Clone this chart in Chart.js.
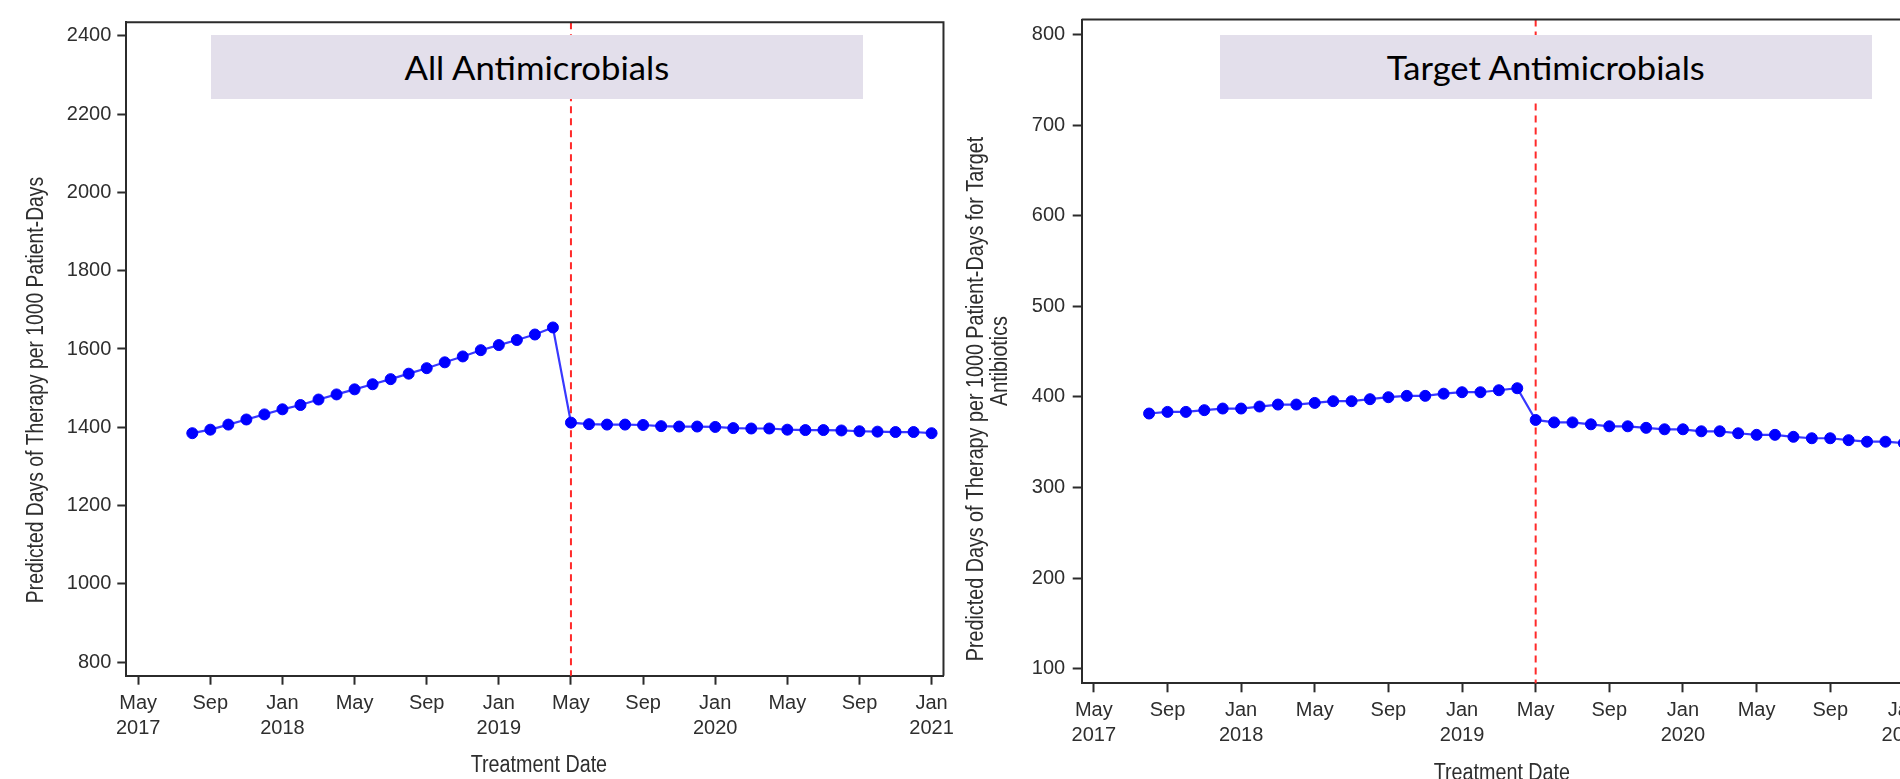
<!DOCTYPE html>
<html>
<head>
<meta charset="utf-8">
<script src="https://cdn.jsdelivr.net/npm/chart.js@4.4.0/dist/chart.umd.min.js"></script>
<style>
  html, body { margin:0; padding:0; background:#fff; width:1900px; height:779px; overflow:hidden; }
  canvas { position:absolute; top:0; }
  #c1 { left:0; }
  #c2 { left:950px; }
  .tbox { position:absolute; background:#E3DFEB; top:35px; height:64px; width:652px;
          display:flex; align-items:center; justify-content:center; overflow:visible; }
  .tbox span { font-family: Lato, "Open Sans", sans-serif; font-size:33px; color:#000; white-space:nowrap; display:inline-block; }
  #b1 { left:211px; }
  #b2 { left:1220px; }
</style>
</head>
<body>
<canvas id="c1" width="960" height="779"></canvas>
<canvas id="c2" width="990" height="779"></canvas>
<div class="tbox" id="b1"><span id="t1"></span></div>
<div class="tbox" id="b2"><span id="t2"></span></div>
<script>
// ---------------- data ----------------
const months = ['2017-08','2017-09','2017-10','2017-11','2017-12','2018-01','2018-02','2018-03','2018-04','2018-05','2018-06','2018-07','2018-08','2018-09','2018-10','2018-11','2018-12','2019-01','2019-02','2019-03','2019-04',
                '2019-05','2019-06','2019-07','2019-08','2019-09','2019-10','2019-11','2019-12','2020-01','2020-02','2020-03','2020-04','2020-05','2020-06','2020-07','2020-08','2020-09','2020-10','2020-11','2020-12','2021-01'];
const allAntimicrobials = [1385,1394,1407,1420,1433,1446,1457,1471,1484,1497,1510,1523,1537,1551,1566,1581,1597,1610,1623,1637,1655,
                           1412,1408,1407,1407,1406,1403,1402,1402,1401,1398,1397,1397,1394,1393,1393,1392,1390,1389,1388,1388,1385];
const targetAntimicrobials = [381.7,383.5,383.5,385.4,387.2,387.2,389.4,391.6,391.6,393.4,395.3,395.3,397.5,399.7,401.2,401.2,403.6,405.2,405.2,407.4,409.6,
                              374.6,371.9,371.9,369.8,367.6,367.6,365.9,364.3,364.3,362.1,362.1,359.9,358.2,358.2,356.0,354.4,354.4,352.3,350.6,350.6,349.0];
const xTickMonths = ['2017-05','2017-09','2018-01','2018-05','2018-09','2019-01','2019-05','2019-09','2020-01','2020-05','2020-09','2021-01'];
const xTickLabels = [['May','2017'],['Sep'],['Jan','2018'],['May'],['Sep'],['Jan','2019'],['May'],['Sep'],['Jan','2020'],['May'],['Sep'],['Jan','2021']];
const leftYTicks = [800,1000,1200,1400,1600,1800,2000,2200,2400];
const rightYTicks = [100,200,300,400,500,600,700,800];
const interventionMonth = '2019-05';
const panelTitles = ['All Antimicrobials','Target Antimicrobials'];
const leftYTitle = ['Predicted Days of Therapy per 1000 Patient-Days'];
const rightYTitle = ['Predicted Days of Therapy per 1000 Patient-Days for Target','Antibiotics'];
const xTitle = 'Treatment Date';

// ---------------- helpers ----------------
function monthIndex(s){ const [y,m] = s.split('-').map(Number); return (y-2017)*12 + (m-5); }
function hasFont(name){
  const c = document.createElement('canvas').getContext('2d');
  const s = 'Predicted Days 1234567890 abcdefghijklmnop';
  c.font = '40px monospace'; const a = c.measureText(s).width;
  c.font = '40px "'+name+'", monospace'; const b = c.measureText(s).width;
  return Math.abs(a-b) > 0.5;
}
let NARROW = null;
['Liberation Sans Narrow','Arial Narrow'].forEach(n => { if(!NARROW && hasFont(n)) NARROW = n; });
const tickFamily = NARROW ? '"'+NARROW+'", "Liberation Sans", Arial, sans-serif' : '"Liberation Sans", Arial, sans-serif';
const tickSize = NARROW ? 21 : 20;
const textColor = '#2e2e2e';
const axisColor = '#2b2b2b';

function drawLabel(ctx, text, x, y, size, rotate){
  ctx.save();
  ctx.translate(x, y);
  if (rotate) ctx.rotate(-Math.PI/2);
  if (NARROW) { ctx.font = size+'px "'+NARROW+'"'; }
  else { ctx.font = size+'px "Liberation Sans", Arial, sans-serif'; ctx.scale(0.84, 1); }
  ctx.fillStyle = textColor;
  ctx.textAlign = 'center';
  ctx.textBaseline = 'middle';
  ctx.fillText(text, 0, 0);
  ctx.restore();
}

const framePlugin = {
  id:'frame',
  beforeDatasetsDraw(chart, args, opts){
    const {ctx, chartArea:a, scales} = chart;
    const x = scales.x.getPixelForValue(monthIndex(interventionMonth));
    ctx.save();
    ctx.strokeStyle = '#ff2a2a';
    ctx.lineWidth = 2;
    ctx.setLineDash([7,5]);
    ctx.beginPath(); ctx.moveTo(x, a.top); ctx.lineTo(x, a.bottom); ctx.stroke();
    ctx.restore();
  },
  afterDraw(chart, args, opts){
    const {ctx, chartArea:a} = chart;
    ctx.save();
    ctx.strokeStyle = axisColor; ctx.lineWidth = 2;
    ctx.beginPath();
    ctx.moveTo(a.left, a.top); ctx.lineTo(a.right, a.top); ctx.lineTo(a.right, a.bottom);
    ctx.stroke();
    ctx.restore();
    opts.yTitles.forEach(t => drawLabel(ctx, t.text, t.x, t.y, t.size || 23, true));
    drawLabel(ctx, xTitle, (a.left+a.right)/2 + opts.xTitleDx, a.bottom + 90, 23.5, false);
  }
};

function makeChart(id, values, yTicks, yMin, yMax, geom, titles){
  const ctx = document.getElementById(id).getContext('2d');
  return new Chart(ctx, {
    type:'line',
    data:{ datasets:[{
      data: months.map((m,i)=>({x:monthIndex(m), y:values[i]})),
      borderColor:'rgba(45,45,255,0.95)', borderWidth:2.2,
      pointRadius:5.5, pointBorderWidth:1, pointBackgroundColor:'#0000ff', pointBorderColor:'#0000ff',
      tension:0, fill:false
    }]},
    options:{
      responsive:false, animation:false, devicePixelRatio:1,
      layout:{ padding:{ left:0, right:geom.padRight, top:geom.top, bottom:0 } },
      plugins:{ legend:{display:false}, tooltip:{enabled:false}, frame: titles },
      scales:{
        x:{
          type:'linear', min:-0.66, max:44.66,
          afterBuildTicks: ax => { ax.ticks = xTickMonths.map(m => ({value: monthIndex(m)})); },
          afterFit: s => { s.height = geom.xAxisH; },
          ticks:{ callback:(v,i)=>xTickLabels[i], autoSkip:false, maxRotation:0, minRotation:0,
                  color:textColor, padding:6, font:{family:tickFamily, size:tickSize, lineHeight:1.25} },
          grid:{ drawOnChartArea:false, drawTicks:true, tickLength:9, tickColor:axisColor, tickWidth:2, color:axisColor },
          border:{ display:true, color:axisColor, width:2 }
        },
        y:{
          type:'linear', min:yMin, max:yMax,
          afterBuildTicks: ax => { ax.ticks = yTicks.map(v => ({value:v})); },
          afterFit: s => { s.width = geom.yAxisW; },
          ticks:{ callback:v=>String(v), color:textColor, padding:geom.yPad, font:{family:tickFamily, size:tickSize} },
          grid:{ drawOnChartArea:false, drawTicks:true, tickLength:9, tickColor:axisColor, tickWidth:2, color:axisColor },
          border:{ display:true, color:axisColor, width:2 }
        }
      }
    },
    plugins:[framePlugin]
  });
}

makeChart('c1', allAntimicrobials, leftYTicks, 765.8, 2434.2,
  { padRight:11.7, top:22.3, xAxisH:103.3, yAxisW:126.3, yPad:6 },
  { yTitles:[{text:leftYTitle[0], x:36.5, y:390}], xTitleDx:4 });

makeChart('c2', targetAntimicrobials, rightYTicks, 84.0, 816.5,
  { padRight:24, top:16.7, xAxisH:95.7, yAxisW:131.7, yPad:7.5 },
  { yTitles:[{text:rightYTitle[0], x:27, y:399, size:23.5},{text:rightYTitle[1], x:51, y:361, size:23.5}], xTitleDx:3 });

function setTitle(id, text, targetW){
  const el = document.getElementById(id);
  el.textContent = text;
  const c = document.createElement('canvas').getContext('2d');
  c.font = '33px Lato, "Open Sans", sans-serif';
  const w = c.measureText(text).width;
  const s = Math.max(0.8, Math.min(1.2, targetW / w));
  el.style.transform = 'scaleX(' + s.toFixed(3) + ')';
}
setTitle('t1', panelTitles[0], 266);
setTitle('t2', panelTitles[1], 319);
</script>
</body>
</html>
